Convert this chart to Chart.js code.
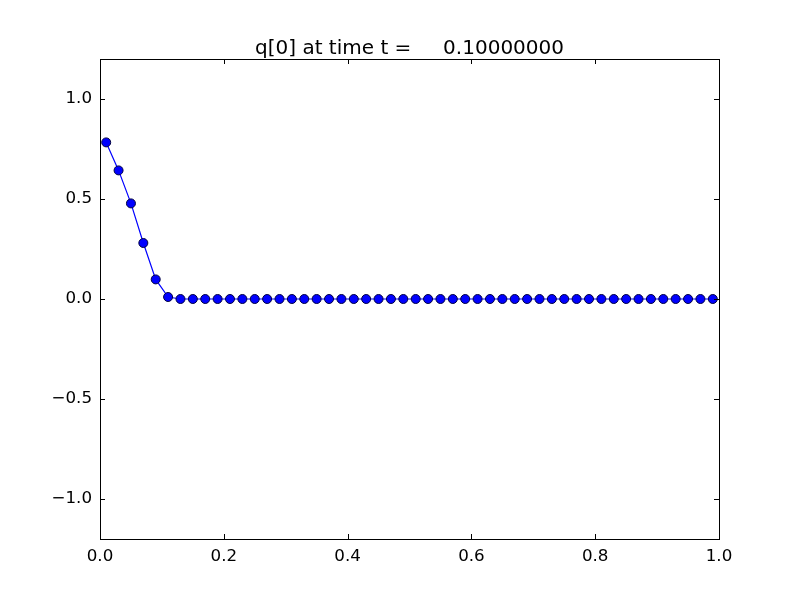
<!DOCTYPE html>
<html>
<head>
<meta charset="utf-8">
<script src="https://cdn.jsdelivr.net/npm/chart.js@4/dist/chart.umd.min.js"></script>
<style>
  html, body { margin: 0; padding: 0; background: #fff; }
  #wrap { width: 800px; height: 600px; }
</style>
</head>
<body>
<div id="wrap"><canvas id="myChart" width="800" height="600"></canvas></div>
<script>
// cell centres and q[0] values
let xValues = [0.01, 0.03, 0.05, 0.07, 0.09, 0.11, 0.13, 0.15, 0.17, 0.19,
               0.21, 0.23, 0.25, 0.27, 0.29, 0.31, 0.33, 0.35, 0.37, 0.39,
               0.41, 0.43, 0.45, 0.47, 0.49, 0.51, 0.53, 0.55, 0.57, 0.59,
               0.61, 0.63, 0.65, 0.67, 0.69, 0.71, 0.73, 0.75, 0.77, 0.79,
               0.81, 0.83, 0.85, 0.87, 0.89, 0.91, 0.93, 0.95, 0.97, 0.99];
let qValues = [0.783, 0.643, 0.478, 0.28, 0.098, 0.01, 0, 0, 0, 0,
               0, 0, 0, 0, 0, 0, 0, 0, 0, 0,
               0, 0, 0, 0, 0, 0, 0, 0, 0, 0,
               0, 0, 0, 0, 0, 0, 0, 0, 0, 0,
               0, 0, 0, 0, 0, 0, 0, 0, 0, 0];
let xTicks = [0.0, 0.2, 0.4, 0.6, 0.8, 1.0];
let yTicks = [-1.0, -0.5, 0.0, 0.5, 1.0];
let titleText = 'q[0] at time t =     0.10000000';

let fontFamily = "'DejaVu Sans', sans-serif";

function fmt(v) {
    return v.toFixed(1).replace('-', '\u2212');
}

// box around the axes + inward ticks on all four sides, title centred on the axes
let boxPlugin = {
    id: 'box',
    afterDatasetsDraw(chart) {
        let c = chart.ctx;
        let a = chart.chartArea;
        let xs = chart.scales.x, ys = chart.scales.y;
        let len = 5;
        c.save();
        c.strokeStyle = '#000';
        c.lineWidth = 1;
        c.beginPath();
        xs.ticks.forEach(t => {
            let px = Math.round(xs.getPixelForValue(t.value)) + 0.5;
            c.moveTo(px, a.bottom); c.lineTo(px, a.bottom - len);
            c.moveTo(px, a.top); c.lineTo(px, a.top + len);
        });
        ys.ticks.forEach(t => {
            let py = Math.round(ys.getPixelForValue(t.value)) + 0.5;
            c.moveTo(a.left, py); c.lineTo(a.left + len, py);
            c.moveTo(a.right, py); c.lineTo(a.right - len, py);
        });
        c.stroke();
        c.strokeRect(Math.round(a.left) + 0.5, Math.round(a.top) + 0.5,
                     Math.round(a.right - a.left), Math.round(a.bottom - a.top));

        c.fillStyle = '#000';
        c.font = "20px " + fontFamily;
        c.textAlign = 'center';
        c.textBaseline = 'alphabetic';
        c.fillText(titleText, (a.left + a.right) / 2, a.top - 5);
        c.restore();
    }
};

let data = {
    datasets: [
        {
            label: 'q[0]',
            data: xValues.map((x, i) => ({ x: x, y: qValues[i] })),
            borderColor: '#0000ff',
            borderWidth: 1.2,
            pointRadius: 4.5,
            pointBorderWidth: 1,
            pointBackgroundColor: '#0000ff',
            pointBorderColor: '#000040',
            fill: false,
            tension: 0,
            clip: false
        }
    ]
};

let options = {
    responsive: false,
    animation: false,
    layout: { padding: { left: 0, right: 81, top: 59, bottom: 0 } },
    plugins: {
        legend: { display: false },
        tooltip: { enabled: false },
        title: { display: false }
    },
    scales: {
        x: {
            type: 'linear',
            min: 0, max: 1,
            afterBuildTicks: s => { s.ticks = xTicks.map(v => ({ value: v })); },
            afterFit: s => { s.height = 61; },
            grid: { display: false, drawTicks: false },
            border: { display: false },
            ticks: {
                color: '#000',
                padding: 8,
                maxRotation: 0,
                autoSkip: false,
                font: { family: fontFamily, size: 16.7 },
                callback: v => fmt(v)
            }
        },
        y: {
            type: 'linear',
            min: -1.2, max: 1.2,
            afterBuildTicks: s => { s.ticks = yTicks.map(v => ({ value: v })); },
            afterFit: s => { s.width = 100; },
            grid: { display: false, drawTicks: false },
            border: { display: false },
            ticks: {
                color: '#000',
                padding: 8,
                autoSkip: false,
                font: { family: fontFamily, size: 16.7 },
                callback: v => fmt(v)
            }
        }
    }
};

let ctx = document.getElementById("myChart").getContext("2d");
let myLineChart = new Chart(ctx, {
    type: 'line',
    data: data,
    options: options,
    plugins: [boxPlugin]
});
</script>
</body>
</html>
